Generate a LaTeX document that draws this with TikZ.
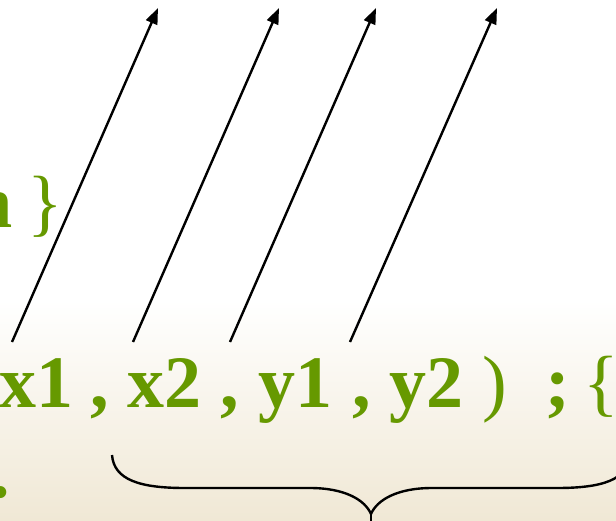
\documentclass[tikz,border=0pt]{standalone}
\usepackage{fontspec}
\setmainfont{Liberation Serif}
\usetikzlibrary{arrows.meta}
\definecolor{codegreen}{RGB}{102,153,0}
\definecolor{beige}{RGB}{240,232,213}
\tikzset{
  tokb/.style={inner sep=0pt, anchor=base west, text=codegreen, font=\fontsize{74}{80}\selectfont\bfseries},
  tokr/.style={inner sep=0pt, anchor=base west, text=codegreen, font=\fontsize{74}{80}\selectfont},
  uparrow/.style={line width=2.4pt, -{Triangle[length=16pt,width=12pt]}},
  bracepath/.style={line width=2.4pt}
}
\begin{document}
\begin{tikzpicture}[x=1pt,y=-1pt]
\useasboundingbox (0,0) rectangle (616,520);
\clip (0,0) rectangle (616,520);
\fill[white] (0,0) rectangle (616,300);
\shade[top color=white, bottom color=beige] (0,300) rectangle (616,520);
% top line
\node[tokb] (n) at (-29,227) {n};
\node[tokr] (rb) at (27,227) {\}};
% main line
\node[tokb] (x1) at (-1,407) {x1};
\node[tokb] (c1) at (90,407) {,};
\node[tokb] (x2) at (127,407) {x2};
\node[tokb] (c2) at (220,407) {,};
\node[tokb] (y1) at (258,407) {y1};
\node[tokb] (c3) at (352,407) {,};
\node[tokb] (y2) at (389,407) {y2};
\node[tokr] (rp) at (482,407) {)};
\node[tokb] (sc) at (545,407) {;};
\node[tokr] (lb) at (583,407) {\{};
% bottom dot
\node[tokb] (dot) at (-9,497) {.};
% arrows
\coordinate (a1s) at (12,342);  \coordinate (a1e) at (158,8);
\coordinate (a2s) at (133,342); \coordinate (a2e) at (279,8);
\coordinate (a3s) at (230,342); \coordinate (a3e) at (376,8);
\coordinate (a4s) at (350,342); \coordinate (a4e) at (497,8);
\draw[uparrow] (a1s) -- (a1e);
\draw[uparrow] (a2s) -- (a2e);
\draw[uparrow] (a3s) -- (a3e);
\draw[uparrow] (a4s) -- (a4e);
% brace
\coordinate (bl) at (112,455);
\coordinate (bt) at (371,514);
\coordinate (br) at (630,455);
\coordinate (bb) at (371,530);
\draw[bracepath] (bl) .. controls (114,480) and (140,488) .. (185,488)
  -- (310,488) .. controls (345,488) and (365,500) .. (bt)
  .. controls (377,500) and (397,488) .. (432,488)
  -- (557,488) .. controls (602,488) and (628,480) .. (br);
\draw[bracepath] (bt) -- (bb);
\end{tikzpicture}
\end{document}
